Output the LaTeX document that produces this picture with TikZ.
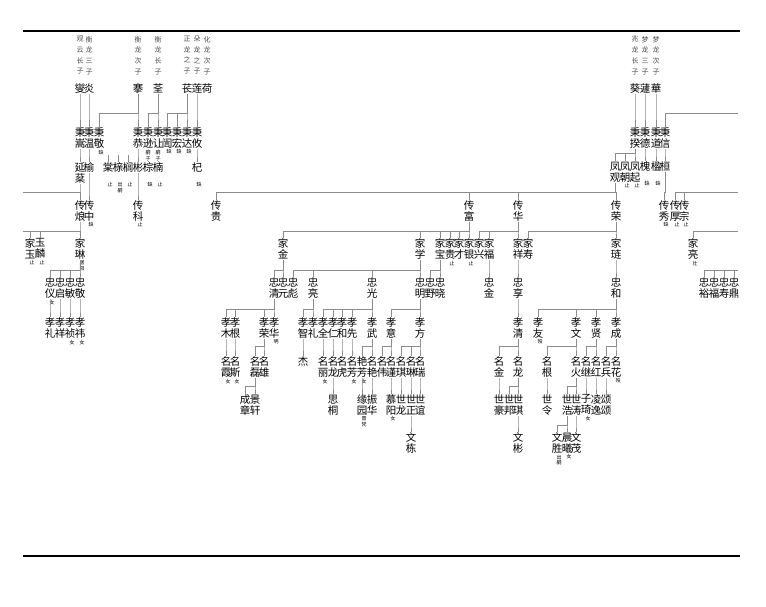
\documentclass[tikz,border=0pt]{standalone}
\usepackage{fontspec}
\newfontfamily\cjk{Noto Sans CJK SC}

\begin{document}
\begin{tikzpicture}[x=1pt, y=-1pt,
    nm/.style={font=\cjk\fontsize{10.5}{11}\selectfont, inner sep=0.6pt, align=center, anchor=north},
    nt/.style={font=\cjk\fontsize{5}{5.6}\selectfont, inner sep=0.3pt, align=center, xshift=2pt},
    tp/.style={font=\cjk\fontsize{7}{10.7}\selectfont, inner sep=0pt, align=center, anchor=north, text=black!70},
    ln/.style={draw=black!45, line width=0.6pt},
    rule/.style={line width=2pt}]
        \useasboundingbox (0,0) rectangle (766,607);
        \draw [rule] (23,31) -- (740,31);
        \draw [rule] (23,556) -- (740,556);
        % notes on fathers
        \node [tp] (t1) at (80,36) {观\\云\\长\\子};
        \node [tp] (t2) at (89,36) {衡\\龙\\三\\子};
        \node [tp] (t3) at (138,36) {衡\\龙\\次\\子};
        \node [tp] (t4) at (158,36) {衡\\龙\\长\\子};
        \node [tp] (t5) at (187,36) {正\\龙\\之\\子};
        \node [tp] (t6) at (197,36) {朵\\龙\\之\\子};
        \node [tp] (t7) at (207,36) {化\\龙\\次\\子};
        \node [tp] (t8) at (635,36) {兆\\龙\\长\\子};
        \node [tp] (t9) at (645,36) {梦\\龙\\三\\子};
        \node [tp] (t10) at (656,36) {梦\\龙\\次\\子};
        % first row
        \node [nm] (h1) at (80,83) {燮};
        \node [nm] (h2) at (89,83) {炎};
        \node [nm] (h3) at (138,83) {搴};
        \node [nm] (h4) at (158,83) {荃};
        \node [nm] (h5) at (187,83) {苌};
        \node [nm] (h6) at (197,83) {莲};
        \node [nm] (h7) at (207,83) {荷};
        \node [nm] (h8) at (635,83) {葵};
        \node [nm] (h9) at (645,83) {蘧};
        \node [nm] (h10) at (656,83) {華};
        % bing
        \node [nm] (q1) at (80,127) {秉\\嵩};
        \node [nm] (q2) at (89,127) {秉\\温};
        \node [nm, label={[nt]below:缺}] (q3) at (99,127) {秉\\敬};
        \node [nm] (q4) at (138,127) {秉\\恭};
        \node [nm] (q5) at (148,127) {秉\\逊};
        \node [nm] (q6) at (158,127) {秉\\让};
        \node [nm, label={[nt]below:缺}] (q7) at (167,127) {秉\\訚};
        \node [nm, label={[nt]below:缺}] (q8) at (177,127) {秉\\宏};
        \node [nm, label={[nt]below:缺}] (q9) at (187,127) {秉\\达};
        \node [nm] (q10) at (197,127) {秉\\攸};
        \node [nm] (q11) at (635,127) {秉\\揆};
        \node [nm] (q12) at (645,127) {秉\\德};
        \node [nm] (q13) at (656,127) {秉\\道};
        \node [nm] (q14) at (665,127) {秉\\信};
        % third row
        \node [nm] (y1) at (80,162) {延\\棻};
        \node [nm] (y2) at (89,162) {榆};
        \node [nm, label={[nt, yshift=-9pt]below:止}] (y3) at (108,162) {棠};
        \node [nm, label={[nt, yshift=-9pt]below:出\\嗣}] (y4) at (118,162) {榇};
        \node [nm, label={[nt, yshift=-9pt]below:止}] (y5) at (128,162) {榈};
        \node [nm] (y6) at (138,162) {彬};
        \node [nm, label={[nt, yshift=-9pt]below:缺}] (y7) at (148,162) {棕};
        \node [nm, label={[nt, yshift=-9pt]below:止}] (y8) at (158,162) {楠};
        \node [nm, label={[nt, yshift=-9pt]below:缺}] (y9) at (197,162) {杞};
        \node [nm] (y10) at (615,161) {凤\\观};
        \node [nm, label={[nt]below:止}] (y11) at (625,161) {凤\\朝};
        \node [nm, label={[nt]below:止}] (y12) at (635,161) {凤\\起};
        \node [nm, label={[nt, yshift=-9pt]below:缺}] (y13) at (645,161) {槐};
        \node [nm, label={[nt, yshift=-9pt]below:缺}] (y14) at (656,161) {楹};
        \node [nm] (y15) at (665,161) {桓};
        % chuan
        \node [nm] (c1) at (80,200) {传\\烺};
        \node [nm, label={[nt]below:缺}] (c2) at (89,200) {传\\中};
        \node [nm, label={[nt]below:止}] (c3) at (138,200) {传\\科};
        \node [nm] (c4) at (216,200) {传\\贵};
        \node [nm] (c5) at (469,200) {传\\富};
        \node [nm] (c6) at (518,200) {传\\华};
        \node [nm] (c7) at (616,200) {传\\荣};
        \node [nm, label={[nt]below:缺}] (c8) at (664,200) {传\\秀};
        \node [nm, label={[nt]below:止}] (c9) at (675,200) {传\\厚};
        \node [nm, label={[nt]below:止}] (c10) at (684,200) {传\\宗};
        % jia
        \node [nm, label={[nt]below:止}] (j1) at (30,238) {家\\玉};
        \node [nm, label={[nt]below:止}] (j2) at (40,238) {玉\\麟};
        \node [nm, label={[nt]below:居\\阳}] (j3) at (80,238) {家\\琳};
        \node [nm] (j4) at (283,238) {家\\金};
        \node [nm] (j5) at (420,238) {家\\学};
        \node [nm] (j6) at (440,238) {家\\宝};
        \node [nm, label={[nt]below:止}] (j7) at (450,238) {家\\贵};
        \node [nm] (j8) at (459,238) {家\\才};
        \node [nm, label={[nt]below:止}] (j9) at (469,238) {家\\银};
        \node [nm] (j10) at (479,238) {家\\兴};
        \node [nm] (j11) at (489,238) {家\\福};
        \node [nm] (j12) at (518,238) {家\\祥};
        \node [nm] (j13) at (528,238) {家\\寿};
        \node [nm] (j14) at (616,238) {家\\琏};
        \node [nm, label={[nt]below:壮}] (j15) at (693,238) {家\\亮};
        % zhong
        \node [nm, label={[nt]below:女}] (z1) at (50,277) {忠\\仪};
        \node [nm] (z2) at (60,277) {忠\\启};
        \node [nm] (z3) at (70,277) {忠\\敏};
        \node [nm] (z4) at (80,277) {忠\\敬};
        \node [nm] (z5) at (274,277) {忠\\清};
        \node [nm] (z6) at (283,277) {忠\\元};
        \node [nm] (z7) at (293,277) {忠\\彪};
        \node [nm] (z8) at (313,277) {忠\\亮};
        \node [nm] (z9) at (372,277) {忠\\光};
        \node [nm] (z10) at (420,277) {忠\\明};
        \node [nm] (z11) at (430,277) {忠\\野};
        \node [nm] (z12) at (440,277) {忠\\晓};
        \node [nm] (z13) at (489,277) {忠\\金};
        \node [nm] (z14) at (518,277) {忠\\享};
        \node [nm] (z15) at (616,277) {忠\\和};
        \node [nm] (z16) at (704,277) {忠\\裕};
        \node [nm] (z17) at (714,277) {忠\\福};
        \node [nm] (z18) at (724,277) {忠\\寿};
        \node [nm] (z19) at (734,277) {忠\\鼎};
        % xiao
        \node [nm] (x1) at (50,317) {孝\\礼};
        \node [nm] (x2) at (60,317) {孝\\祥};
        \node [nm, label={[nt]below:女}] (x3) at (70,317) {孝\\祯};
        \node [nm, label={[nt]below:女}] (x4) at (80,317) {孝\\祎};
        \node [nm] (x5) at (226,317) {孝\\木};
        \node [nm] (x6) at (235,317) {孝\\根};
        \node [nm] (x7) at (264,317) {孝\\荣};
        \node [nm, label={[nt]below:明}] (x8) at (274,317) {孝\\华};
        \node [nm] (x9) at (303,317) {孝\\智};
        \node [nm] (x10) at (313,317) {孝\\礼};
        \node [nm] (x11) at (323,317) {孝\\全};
        \node [nm] (x12) at (333,317) {孝\\仁};
        \node [nm] (x13) at (342,317) {孝\\和};
        \node [nm] (x14) at (352,317) {孝\\先};
        \node [nm] (x15) at (372,317) {孝\\武};
        \node [nm] (x16) at (391,317) {孝\\意};
        \node [nm] (x17) at (420,317) {孝\\方};
        \node [nm] (x18) at (518,317) {孝\\清};
        \node [nm, label={[nt]below:殁}] (x19) at (538,317) {孝\\友};
        \node [nm] (x20) at (576,317) {孝\\文};
        \node [nm] (x21) at (596,317) {孝\\贤};
        \node [nm] (x22) at (616,317) {孝\\成};
        % ming
        \node [nm, label={[nt]below:女}] (m1) at (226,356) {名\\霞};
        \node [nm, label={[nt]below:女}] (m2) at (235,356) {名\\斯};
        \node [nm] (m3) at (255,356) {名\\磊};
        \node [nm] (m4) at (264,356) {名\\雄};
        \node [nm] (m5) at (303,356) {杰};
        \node [nm, label={[nt]below:女}] (m6) at (323,356) {名\\丽};
        \node [nm] (m7) at (333,356) {名\\龙};
        \node [nm] (m8) at (342,356) {名\\虎};
        \node [nm, label={[nt]below:女}] (m9) at (352,356) {名\\芳};
        \node [nm, label={[nt]below:女}] (m10) at (362,356) {艳\\芳};
        \node [nm] (m11) at (372,356) {名\\艳};
        \node [nm] (m12) at (382,356) {名\\伟};
        \node [nm] (m13) at (391,356) {名\\谨};
        \node [nm] (m14) at (401,356) {名\\琪};
        \node [nm] (m15) at (411,356) {名\\琳};
        \node [nm] (m16) at (420,356) {名\\瑞};
        \node [nm] (m17) at (499,356) {名\\金};
        \node [nm] (m18) at (518,356) {名\\龙};
        \node [nm] (m19) at (547,356) {名\\根};
        \node [nm] (m20) at (576,356) {名\\火};
        \node [nm] (m21) at (586,356) {名\\继};
        \node [nm] (m22) at (596,356) {名\\红};
        \node [nm] (m23) at (606,356) {名\\兵};
        \node [nm, label={[nt]below:殁}] (m24) at (616,356) {名\\花};
        % shi
        \node [nm] (s1) at (245,394) {成\\章};
        \node [nm] (s2) at (255,394) {景\\轩};
        \node [nm] (s3) at (333,394) {思\\桐};
        \node [nm, label={[nt]below:晋\\梵}] (s4) at (362,394) {缘\\园};
        \node [nm] (s5) at (372,394) {振\\华};
        \node [nm, label={[nt]below:女}] (s6) at (391,394) {慕\\阳};
        \node [nm] (s7) at (401,394) {世\\龙};
        \node [nm] (s8) at (411,394) {世\\正};
        \node [nm] (s9) at (420,394) {世\\谊};
        \node [nm] (s10) at (499,394) {世\\豪};
        \node [nm] (s11) at (509,394) {世\\邦};
        \node [nm] (s12) at (518,394) {世\\琪};
        \node [nm] (s13) at (547,394) {世\\令};
        \node [nm] (s14) at (567,394) {世\\浩};
        \node [nm] (s15) at (576,394) {世\\涛};
        \node [nm, label={[nt]below:女}] (s16) at (586,394) {子\\琦};
        \node [nm] (s17) at (596,394) {凌\\逸};
        \node [nm] (s18) at (606,394) {颂\\颂};
        % wen
        \node [nm] (w1) at (411,432) {文\\栋};
        \node [nm] (w2) at (518,432) {文\\彬};
        \node [nm, label={[nt]below:出\\嗣}] (w3) at (557,432) {文\\胜};
        \node [nm, label={[nt]below:女}] (w4) at (567,432) {晨\\曦};
        \node [nm] (w5) at (576,432) {文\\茂};
        % lines running off the page
        \coordinate (lf1) at (23,192);
        \coordinate (lf2) at (23,231);
        \coordinate (rt1) at (738,113);
        \coordinate (rt2) at (738,192);
        \coordinate (rt3) at (738,231);
        \coordinate (rt4) at (738,270);
        % father -> son / bar height
        \foreach \p/\c/\h in {h1/q1/113, h2/q2/113, h3/q3/113, h3/q4/113, h4/q5/113, h4/q6/113,
                h5/q7/113, h5/q8/113, h5/q9/113, h6/q10/113, h8/q11/113, h9/q12/113, h10/q13/113,
                q1/y1/153, q2/y2/153, q4/y6/153, q5/y7/153, q6/y8/153, q10/y9/153,
                q11/y10/153, q11/y11/153, q11/y12/153, q12/y13/153, q13/y14/153, q14/y15/153,
                y1/c1/192, y2/c2/192, y6/c3/192, y10/c4/192, y10/c5/192, y10/c6/192, y10/c7/192, y15/c8/192,
                c1/j3/231, c5/j4/231, c5/j5/231, c5/j6/231, c5/j7/231, c5/j8/231, c5/j9/231,
                c6/j10/231, c6/j11/231, c6/j12/231, c7/j13/231, c7/j14/231,
                j3/z1/270, j3/z2/270, j3/z3/270, j3/z4/270, j4/z5/270, j4/z6/270,
                j5/z7/270, j5/z8/270, j5/z9/270, j5/z10/270, j6/z11/270, j6/z12/270,
                j11/z13/270, j12/z14/270, j14/z15/270,
                z1/x1/309, z2/x2/309, z3/x3/309, z4/x4/309, z5/x5/309, z5/x6/309, z5/x7/309, z5/x8/309,
                z8/x9/309, z8/x10/309, z9/x11/309, z9/x12/309, z9/x13/309, z9/x14/309, z9/x15/309,
                z10/x16/309, z10/x17/309, z14/x18/309, z15/x19/309, z15/x20/309, z15/x21/309, z15/x22/309,
                x5/m1/346, x6/m2/346, x7/m3/346, x7/m4/346, x9/m5/346, x11/m6/346, x12/m7/346,
                x13/m8/346, x14/m9/346, x15/m10/346, x15/m11/346, x16/m12/346, x16/m13/346,
                x17/m14/346, x17/m15/346, x17/m16/346, x18/m17/346, x18/m18/346, x20/m19/346,
                x20/m20/346, x21/m21/346, x21/m22/346, x22/m23/346, x22/m24/346,
                m3/s1/386, m3/s2/386, m7/s3/386, m10/s4/386, m11/s5/386, m13/s6/386, m14/s7/386,
                m15/s8/386, m16/s9/386, m17/s10/386, m18/s11/386, m18/s12/386, m19/s13/386,
                m20/s14/386, m20/s15/386, m21/s16/386, m22/s17/386, m23/s18/386,
                s8/w1/425, s12/w2/425, s14/w3/425, s14/w4/425, s15/w5/425}
            \draw [ln] (\p.south) -- (\p.south |- 0,\h) -| (\c.north);
        \draw [ln] (rt1) -| (q14.north);
        \draw [ln] (lf1) -| (c1.north);
        \foreach \c in {c9,c10} \draw [ln] (rt2) -| (\c.north);
        \foreach \c in {j1,j2,j3} \draw [ln] (lf2) -| (\c.north);
        \draw [ln] (rt3) -| (j15.north);
        \foreach \c in {z16,z17,z18,z19} \draw [ln] (rt4) -| (\c.north);
        \foreach \c in {y3,y4,y5} \draw [ln] (\c.north) -- ++(0,-7);
        \node [nt, xshift=-2pt, fill=white] (g1) at (148,155.5) {嗣\\子};
        \node [nt, xshift=-2pt, fill=white] (g2) at (158,155.5) {嗣\\子};
    \end{tikzpicture}
\end{document}
